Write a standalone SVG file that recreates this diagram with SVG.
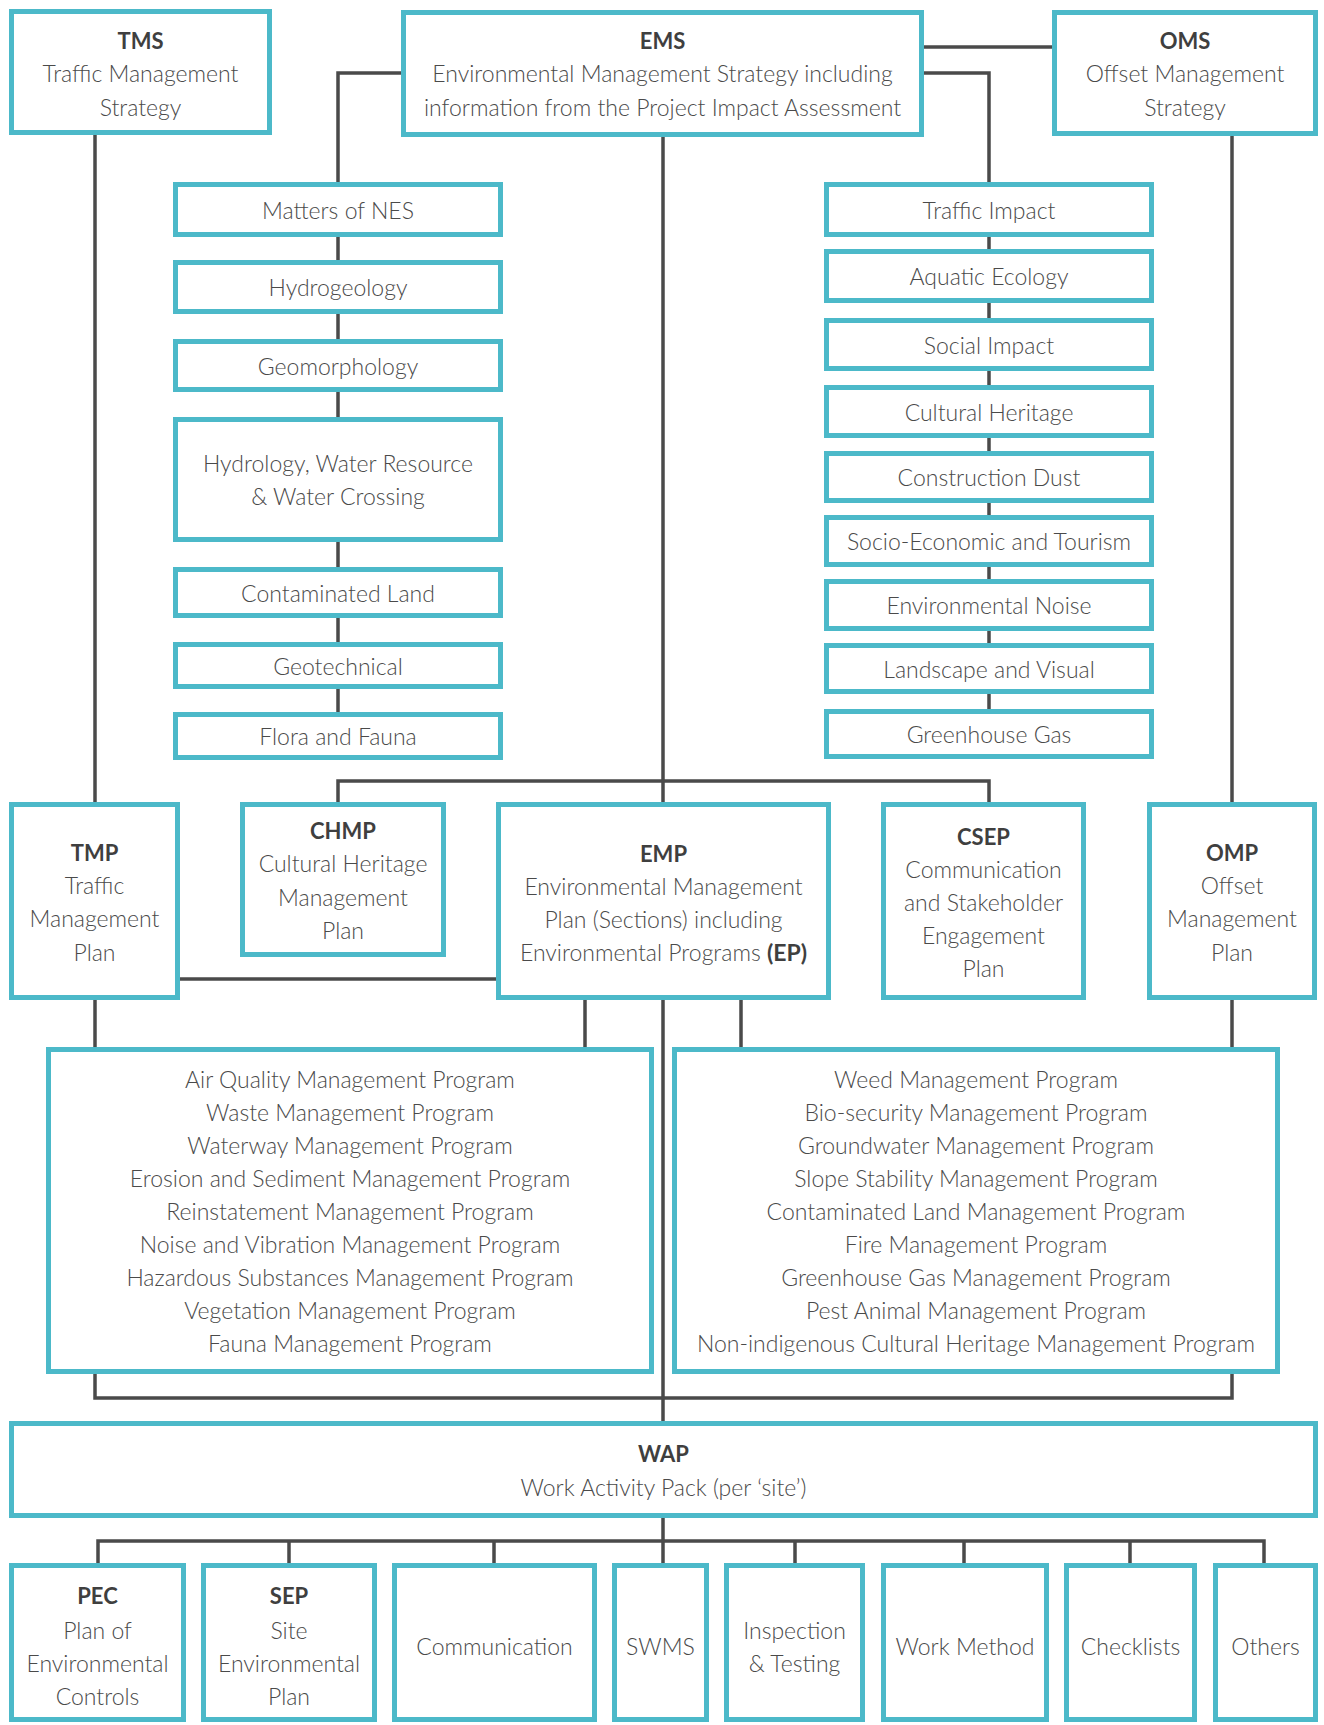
<svg xmlns="http://www.w3.org/2000/svg" width="1324" height="1725" viewBox="0 0 1324 1725">
<style>
.box{fill:#fff;stroke:#4cb9c9;stroke-width:5}
.ln{fill:none;stroke:#4a4a4a;stroke-width:3.5}
text{font-family:Lato,"Noto Sans","Liberation Sans",sans-serif;font-size:23px;font-weight:300;fill:#4a4a4a;text-anchor:middle;dominant-baseline:central}
.t{font-weight:bold;fill:#3f3f3f;font-size:22px}
</style>
<rect width="1324" height="1725" fill="#fff"/>
<g id="connectors">
<path class="ln" d="M924,47H1052"/>
<path class="ln" d="M401,73H338V182"/>
<path class="ln" d="M924,73H989V182"/>
<path class="ln" d="M95,135V802"/>
<path class="ln" d="M1232,136V802"/>
<path class="ln" d="M663,137V802"/>
<path class="ln" d="M338,802V781H989V802"/>
<path class="ln" d="M338,237V260M338,314V339M338,392V417M338,542V567M338,618V642M338,689V712"/>
<path class="ln" d="M989,237V249M989,303V318M989,371V385M989,438V451M989,503V515M989,567V579M989,631V643M989,694V709"/>
<path class="ln" d="M180,979H496"/>
<path class="ln" d="M95,1000V1047"/>
<path class="ln" d="M585,1000V1047M741,1000V1047"/>
<path class="ln" d="M663,1000V1421"/>
<path class="ln" d="M1232,1000V1047"/>
<path class="ln" d="M95,1374V1398H1232V1374"/>
<path class="ln" d="M663,1518V1563"/>
<path class="ln" d="M98,1563V1541H1264V1563M289,1541V1563M494,1541V1563M795,1541V1563M964,1541V1563M1130,1541V1563"/>
</g>
<g id="TMS"><rect class="box" x="11.5" y="11.5" width="258" height="121"/><text class="t" x="140.5" y="40">TMS</text><text x="140.5" y="73">Traffic Management</text><text x="140.5" y="107">Strategy</text></g>
<g id="EMS"><rect class="box" x="403.5" y="12.5" width="518" height="122"/><text class="t" x="662.5" y="40">EMS</text><text x="662.5" y="73">Environmental Management Strategy including</text><text x="662.5" y="107">information from the Project Impact Assessment</text></g>
<g id="OMS"><rect class="box" x="1054.5" y="12.5" width="261" height="121"/><text class="t" x="1185" y="40">OMS</text><text x="1185" y="73">Offset Management</text><text x="1185" y="107">Strategy</text></g>
<g id="nes"><rect class="box" x="175.5" y="184.5" width="325" height="50"/><text x="338" y="209.5">Matters of NES</text></g>
<g id="hydrogeology"><rect class="box" x="175.5" y="262.5" width="325" height="49"/><text x="338" y="287">Hydrogeology</text></g>
<g id="geomorphology"><rect class="box" x="175.5" y="341.5" width="325" height="48"/><text x="338" y="365.5">Geomorphology</text></g>
<g id="hydrology"><rect class="box" x="175.5" y="419.5" width="325" height="120"/><text x="338" y="463">Hydrology, Water Resource</text><text x="338" y="496">&amp; Water Crossing</text></g>
<g id="contaminated"><rect class="box" x="175.5" y="569.5" width="325" height="46"/><text x="338" y="592.5">Contaminated Land</text></g>
<g id="geotechnical"><rect class="box" x="175.5" y="644.5" width="325" height="42"/><text x="338" y="665.5">Geotechnical</text></g>
<g id="flora"><rect class="box" x="175.5" y="714.5" width="325" height="43"/><text x="338" y="736">Flora and Fauna</text></g>
<g id="traffic-impact"><rect class="box" x="826.5" y="184.5" width="325" height="50"/><text x="989" y="209.5">Traffic Impact</text></g>
<g id="aquatic"><rect class="box" x="826.5" y="251.5" width="325" height="49"/><text x="989" y="276">Aquatic Ecology</text></g>
<g id="social"><rect class="box" x="826.5" y="320.5" width="325" height="48"/><text x="989" y="344.5">Social Impact</text></g>
<g id="cultural"><rect class="box" x="826.5" y="387.5" width="325" height="48"/><text x="989" y="411.5">Cultural Heritage</text></g>
<g id="dust"><rect class="box" x="826.5" y="453.5" width="325" height="47"/><text x="989" y="477">Construction Dust</text></g>
<g id="socio"><rect class="box" x="826.5" y="517.5" width="325" height="47"/><text x="989" y="541">Socio-Economic and Tourism</text></g>
<g id="noise"><rect class="box" x="826.5" y="581.5" width="325" height="47"/><text x="989" y="605">Environmental Noise</text></g>
<g id="landscape"><rect class="box" x="826.5" y="645.5" width="325" height="46"/><text x="989" y="668.5">Landscape and Visual</text></g>
<g id="greenhouse"><rect class="box" x="826.5" y="711.5" width="325" height="45"/><text x="989" y="734">Greenhouse Gas</text></g>
<g id="TMP"><rect class="box" x="11.5" y="804.5" width="166" height="193"/><text class="t" x="94.5" y="852">TMP</text><text x="94.5" y="885">Traffic</text><text x="94.5" y="918">Management</text><text x="94.5" y="952">Plan</text></g>
<g id="CHMP"><rect class="box" x="242.5" y="804.5" width="201" height="150"/><text class="t" x="343" y="830">CHMP</text><text x="343" y="863">Cultural Heritage</text><text x="343" y="897">Management</text><text x="343" y="930">Plan</text></g>
<g id="EMP"><rect class="box" x="498.5" y="804.5" width="330" height="193"/><text class="t" x="663.5" y="853">EMP</text><text x="663.5" y="886">Environmental Management</text><text x="663.5" y="919">Plan (Sections) including</text><text x="663.5" y="952">Environmental Programs <tspan font-weight="bold" fill="#3f3f3f">(EP)</tspan></text></g>
<g id="CSEP"><rect class="box" x="883.5" y="804.5" width="200" height="193"/><text class="t" x="983.5" y="836">CSEP</text><text x="983.5" y="869">Communication</text><text x="983.5" y="902">and Stakeholder</text><text x="983.5" y="935">Engagement</text><text x="983.5" y="968">Plan</text></g>
<g id="OMP"><rect class="box" x="1149.5" y="804.5" width="165" height="193"/><text class="t" x="1232" y="852">OMP</text><text x="1232" y="885">Offset</text><text x="1232" y="918">Management</text><text x="1232" y="952">Plan</text></g>
<g id="programs-left"><rect class="box" x="48.5" y="1049.5" width="603" height="322"/>
<text x="350" y="1079">Air Quality Management Program</text><text x="350" y="1112">Waste Management Program</text><text x="350" y="1145">Waterway Management Program</text><text x="350" y="1178">Erosion and Sediment Management Program</text><text x="350" y="1211">Reinstatement Management Program</text><text x="350" y="1244">Noise and Vibration Management Program</text><text x="350" y="1277">Hazardous Substances Management Program</text><text x="350" y="1310">Vegetation Management Program</text><text x="350" y="1343">Fauna Management Program</text></g>
<g id="programs-right"><rect class="box" x="674.5" y="1049.5" width="603" height="322"/>
<text x="976" y="1079">Weed Management Program</text><text x="976" y="1112">Bio-security Management Program</text><text x="976" y="1145">Groundwater Management Program</text><text x="976" y="1178">Slope Stability Management Program</text><text x="976" y="1211">Contaminated Land Management Program</text><text x="976" y="1244">Fire Management Program</text><text x="976" y="1277">Greenhouse Gas Management Program</text><text x="976" y="1310">Pest Animal Management Program</text><text x="976" y="1343">Non-indigenous Cultural Heritage Management Program</text></g>
<g id="WAP"><rect class="box" x="11.5" y="1423.5" width="1304" height="92"/><text class="t" x="663.5" y="1453">WAP</text><text x="663.5" y="1487">Work Activity Pack (per ‘site’)</text></g>
<g id="PEC"><rect class="box" x="11.5" y="1565.5" width="172" height="154"/><text class="t" x="97.5" y="1595">PEC</text><text x="97.5" y="1630">Plan of</text><text x="97.5" y="1663">Environmental</text><text x="97.5" y="1696">Controls</text></g>
<g id="SEP"><rect class="box" x="203.5" y="1565.5" width="171" height="154"/><text class="t" x="289" y="1595">SEP</text><text x="289" y="1630">Site</text><text x="289" y="1663">Environmental</text><text x="289" y="1696">Plan</text></g>
<g id="communication"><rect class="box" x="394.5" y="1565.5" width="200" height="154"/><text x="494.5" y="1646">Communication</text></g>
<g id="SWMS"><rect class="box" x="614.5" y="1565.5" width="92" height="154"/><text x="660.5" y="1646">SWMS</text></g>
<g id="inspection"><rect class="box" x="726.5" y="1565.5" width="136" height="154"/><text x="794.5" y="1630">Inspection</text><text x="794.5" y="1663">&amp; Testing</text></g>
<g id="work-method"><rect class="box" x="883.5" y="1565.5" width="163" height="154"/><text x="965" y="1646">Work Method</text></g>
<g id="checklists"><rect class="box" x="1066.5" y="1565.5" width="128" height="154"/><text x="1130.5" y="1646">Checklists</text></g>
<g id="others"><rect class="box" x="1215.5" y="1565.5" width="100" height="154"/><text x="1265.5" y="1646">Others</text></g>
</svg>
